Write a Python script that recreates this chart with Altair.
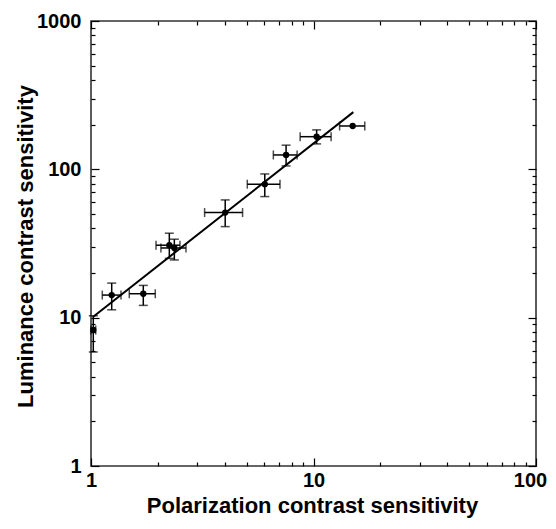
import altair as alt
import pandas as pd

# Data (log-log)
pol = [1.024, 1.239, 1.718, 2.249, 2.369, 4.01, 6.04, 7.53, 10.33, 15.0]
lum = [8.26, 14.2, 14.5, 30.8, 29.5, 51.1, 79.4, 125, 166, 196]
pol_lo = [1.0, 1.124, 1.486, 1.960, 2.062, 3.24, 5.04, 6.60, 8.71, 13.1]
pol_hi = [1.05, 1.364, 1.945, 2.511, 2.673, 4.80, 7.07, 8.44, 12.0, 17.0]
lum_lo = [5.87, 11.3, 12.1, 25.1, 24.5, 41.1, 65.5, 105.4, 148.4, None]
lum_hi = [10.3, 17.1, 16.5, 37.1, 33.8, 62.2, 93.1, 145.5, 184.5, None]
fit_x = [1.02, 15.1]
fit_y = [10.1, 243]

x_major = [1, 10, 100]
x_minor = [2, 3, 4, 5, 6, 7, 8, 9, 20, 30, 40, 50, 60, 70, 80, 90]
y_major = [1, 10, 100, 1000]
y_minor = [2, 3, 4, 5, 6, 7, 8, 9, 20, 30, 40, 50, 60, 70, 80, 90,
           200, 300, 400, 500, 600, 700, 800, 900]

df = pd.DataFrame({"x": pol, "y": lum, "xlo": pol_lo, "xhi": pol_hi,
                   "ylo": lum_lo, "yhi": lum_hi})
dfy = df.dropna()
capx = pd.DataFrame({"x": pol_lo + pol_hi, "y": lum + lum})
capy = pd.DataFrame({"x": list(dfy["x"]) * 2,
                     "y": list(dfy["ylo"]) + list(dfy["yhi"])})
fit = pd.DataFrame({"x": fit_x, "y": fit_y})

XS = alt.Scale(type="log", domain=[1, 100], nice=False)
YS = alt.Scale(type="log", domain=[1, 1000], nice=False)
FONT = "Liberation Sans"
MAJ = 8
MIN = 4


def ax(orient, values, size, labels=False, **kw):
    return alt.Axis(orient=orient, values=values, tickSize=size, offset=-size,
                    domain=False, grid=False, labels=labels, tickColor="black",
                    tickWidth=1.2, labelFlush=False, labelOverlap=False,
                    format="d",
                    labelFont=FONT, labelFontSize=20, labelFontWeight="bold",
                    labelColor="black", titleFont=FONT, titleFontSize=22,
                    titleFontWeight="bold", titleColor="black", **kw)


ax_x_bottom = ax("bottom", x_major, MAJ, labels=True, labelPadding=4,
                 labelOffset={"condition": {"test": "datum.value == 100",
                                            "value": -6}, "value": 0},
                 title="Polarization contrast sensitivity",
                 titleX=221, titleY=54, titleBaseline="alphabetic",
                 titleAlign="center")
ax_y_left = ax("left", y_major, MAJ, labels=True, labelPadding=10,
               title="Luminance contrast sensitivity",
               titleX=-67, titleY=225, titleAngle=270,
               titleBaseline="alphabetic", titleAlign="center")

l1 = alt.Chart(df).mark_rule(color="black", strokeWidth=1.5).encode(
    x=alt.X("xlo:Q", scale=XS, axis=ax_x_bottom),
    x2="xhi:Q",
    y=alt.Y("y:Q", scale=YS, axis=ax_y_left),
)

l2 = alt.Chart(dfy).mark_rule(color="black", strokeWidth=1.5).encode(
    x=alt.X("x:Q", scale=XS, axis=ax("bottom", x_minor, MIN, title=None)),
    y=alt.Y("ylo:Q", scale=YS, axis=ax("left", y_minor, MIN, title=None)),
    y2="yhi:Q",
)

l3 = alt.Chart(capx).mark_tick(orient="vertical", size=9, thickness=1.5,
                               color="black").encode(
    x=alt.X("x:Q", scale=XS, axis=ax("top", x_major, MAJ, title=None)),
    y=alt.Y("y:Q", scale=YS, axis=ax("right", y_major, MAJ, title=None)),
)

l4 = alt.Chart(capy).mark_tick(orient="horizontal", size=9, thickness=1.5,
                               color="black").encode(
    x=alt.X("x:Q", scale=XS, axis=ax("top", x_minor, MIN, title=None)),
    y=alt.Y("y:Q", scale=YS, axis=ax("right", y_minor, MIN, title=None)),
)

l5 = alt.Chart(fit).mark_line(color="black", strokeWidth=2).encode(
    x=alt.X("x:Q", scale=XS, axis=None),
    y=alt.Y("y:Q", scale=YS, axis=None),
)

l6 = alt.Chart(df).mark_point(filled=True, shape="circle", size=40,
                              color="black", opacity=1).encode(
    x=alt.X("x:Q", scale=XS, axis=None),
    y=alt.Y("y:Q", scale=YS, axis=None),
)

chart = alt.layer(l1, l2, l3, l4, l5, l6).resolve_axis(
    x="independent", y="independent"
).properties(
    width=445, height=445, autosize="none",
    padding={"left": 83, "top": 13, "right": 12, "bottom": 55},
    background="white",
).configure_view(stroke="#333333", strokeWidth=1.6)

chart.save("out.html", embed_options={"renderer": "svg", "actions": False})
